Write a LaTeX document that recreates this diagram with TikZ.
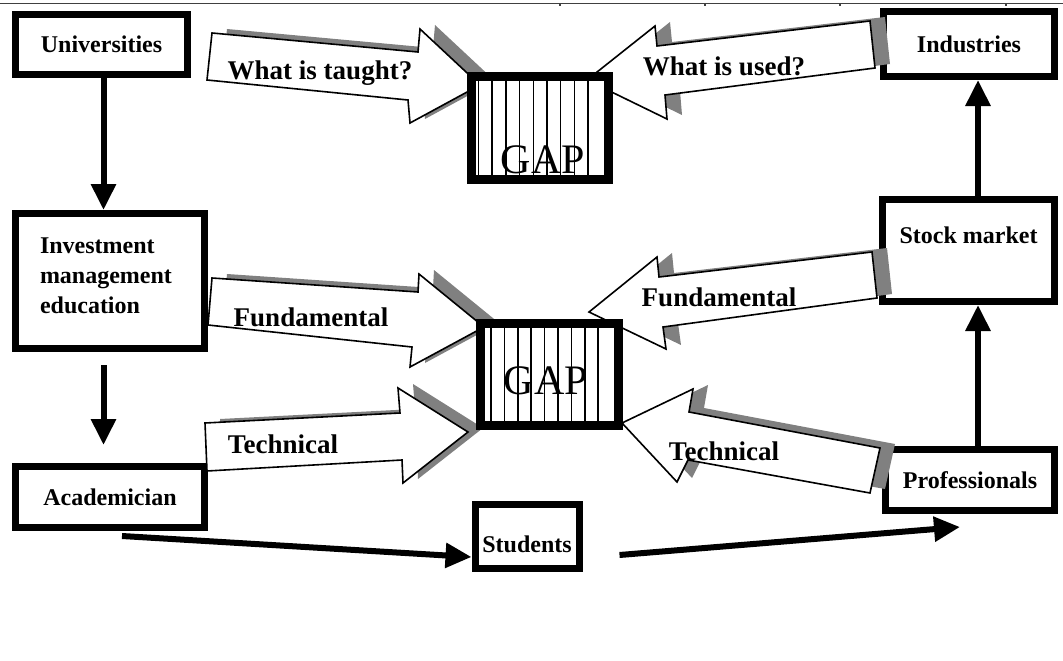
\documentclass[tikz,border=0pt]{standalone}
\usepackage{fontspec}
\setmainfont{Liberation Serif}
\usetikzlibrary{arrows.meta,calc}

% hollow block arrow with a grey drop shadow
\newcommand{\fatarrow}[1]{%
  \fill[fatshade, shift={(15,-4)}] #1 -- cycle;
  \draw[fat] #1 -- cycle;}

\begin{document}
\begin{tikzpicture}[
  x=1pt, y=-1pt,
  sidebox/.style={
    rectangle, draw, line width=7pt, fill=white, inner sep=0pt,
    font=\fontsize{24}{30}\selectfont\bfseries, align=center
  },
  gapbox/.style={rectangle, draw, line width=9pt, fill=white, inner sep=0pt},
  gaptext/.style={font=\fontsize{42}{42}\selectfont, inner sep=0pt, anchor=base},
  bars/.style={line width=1.5pt},
  fat/.style={draw, line width=1.6pt, fill=white, line join=miter},
  fatshade/.style={fill=black!50},
  tag/.style={font=\fontsize{27}{27}\selectfont\bfseries, inner sep=0pt, anchor=base},
  flow/.style={line width=6pt, -{Triangle[length=26pt,width=24pt]}},
  rule/.style={line width=1.5pt, draw=black!75}
]
\useasboundingbox (0,0) rectangle (1063,661);

% --- Top rule ---
\draw[rule] (0,3.5) -- (1063,3.5);
\foreach \t in {560,705,840,1006}
  \draw[rule] (\t,3.5) -- (\t,6.5);

% --- Left column ---
\node[sidebox, minimum width=172pt, minimum height=60pt] (univ) at (101.5,44.5) {Universities};
\node[sidebox, minimum width=189pt, minimum height=135pt, align=left,
  text width=140pt, text depth=70pt] (invest) at (110,281)
  {Investment\\management\\education};
\node[sidebox, minimum width=189pt, minimum height=61pt] (acad) at (110,497) {Academician};

% --- Right column ---
\node[sidebox, minimum width=171pt, minimum height=65pt] (indus) at (969,44) {Industries};
\node[sidebox, minimum width=172pt, minimum height=102pt, text height=17pt, text depth=32pt]
  (stock) at (968.5,250.5) {Stock market};
\node[sidebox, minimum width=169pt, minimum height=61pt] (prof) at (970,480) {Professionals};

% --- Bottom ---
\node[sidebox, minimum width=104pt, minimum height=64pt, text height=32pt, text depth=0pt]
  (stud) at (527,536) {Students};

% =========================================================
% BLOCK ARROWS
% =========================================================
\fatarrow{(212,33) -- (418,52) -- (420,29) -- (480,85) -- (410,123) -- (408,100) -- (207,80)}
\fatarrow{(587,80) -- (655,26) -- (657,46) -- (870,21) -- (875,68) -- (665,95) -- (667,119)}
\fatarrow{(212,278) -- (418,292) -- (419,274) -- (484,327) -- (410,367) -- (412,347) -- (208,325)}
\fatarrow{(589,312) -- (657,257) -- (659,277) -- (872,252) -- (877,298) -- (663,327) -- (666,349)}
\fatarrow{(205,423) -- (400,413) -- (398,388) -- (468,432) -- (403,483) -- (402,460) -- (207,471)}
\fatarrow{(622,423) -- (693,389) -- (689,412) -- (880,448) -- (870,493) -- (688,460) -- (677,482)}

\node[tag] (qtaught) at (320,80) {What is taught?};
\node[tag] (qused) at (724,76) {What is used?};
\node[tag] (fundL) at (311,326) {Fundamental};
\node[tag] (techL) at (283,453) {Technical};
\node[tag] (fundR) at (719,306) {Fundamental};
\node[tag] (techR) at (724,460) {Technical};

% =========================================================
% GAP BOXES
% =========================================================
\node[gapbox, minimum width=137pt, minimum height=102pt] (gapA) at (539.5,128) {};
\foreach \k in {0,...,8}
  \draw[bars] ($(gapA.north west)+(12+13.7*\k,0)$) -- ($(gapA.south west)+(12+13.7*\k,0)$);
\node[gaptext] (gapAtxt) at (543,173) {GAP};

\node[gapbox, minimum width=138pt, minimum height=102pt] (gapB) at (549.5,374.5) {};
\foreach \k in {0,...,8}
  \draw[bars] ($(gapB.north west)+(15+13.4*\k,0)$) -- ($(gapB.south west)+(15+13.4*\k,0)$);
\node[gaptext] (gapBtxt) at (546,394) {GAP};

% =========================================================
% FLOW ARROWS
% =========================================================
\draw[flow] ([xshift=2pt]univ.south) -- ([xshift=2pt]univ.south |- invest.north);
\draw[flow, shorten <=13pt, shorten >=18pt]
  ([xshift=2pt]univ.south |- invest.south) -- ([xshift=2pt]univ.south |- acad.north);
\draw[flow] ([xshift=9.5pt]stock.north) -- ([xshift=9.5pt]stock.north |- indus.south);
\draw[flow] ([xshift=8pt]prof.north) -- ([xshift=8pt]prof.north |- stock.south);
\draw[flow] ($(acad.south)+(12,5)$) -- ($(stud.west)+(0,21)$);
\draw[flow] ($(stud.east)+(37,19)$) -- ($(prof.south)+(-10,13)$);

\end{tikzpicture}
\end{document}
